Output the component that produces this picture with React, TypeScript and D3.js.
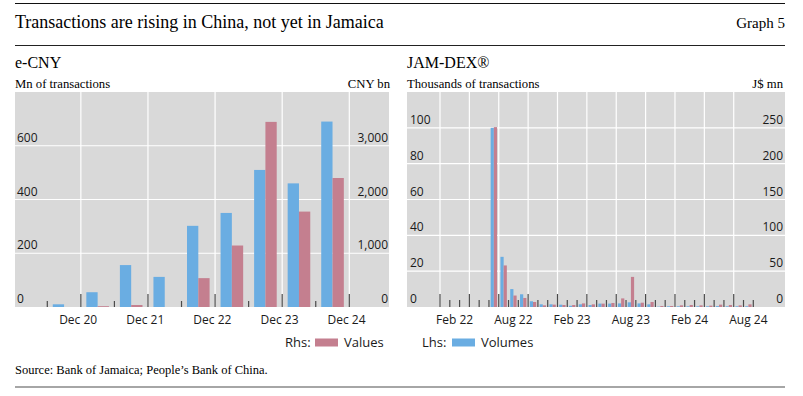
import * as d3 from "d3";

// e-CNY, half-yearly
const cnyPeriods = ["H2 20", "H1 21", "H2 21", "H1 22", "H2 22", "H1 23", "H2 23", "H1 24", "H2 24"];
const cnyVolumes = [10, 55, 156, 112, 302, 350, 510, 460, 690]; // Mn of transactions (lhs)
const cnyValues = [0, 15, 37, 0, 537, 1144, 3444, 1775, 2400]; // CNY bn (rhs)
const cnyLabels = ["Dec 20", "Dec 21", "Dec 22", "Dec 23", "Dec 24"];
const cnyLhsTicks = [0, 200, 400, 600];
const cnyRhsTicks = [0, 1000, 2000, 3000];

// JAM-DEX, monthly
const jamMonths = [
  "Jan 22", "Feb 22", "Mar 22", "Apr 22", "May 22", "Jun 22", "Jul 22", "Aug 22", "Sep 22", "Oct 22", "Nov 22", "Dec 22",
  "Jan 23", "Feb 23", "Mar 23", "Apr 23", "May 23", "Jun 23", "Jul 23", "Aug 23", "Sep 23", "Oct 23", "Nov 23", "Dec 23",
  "Jan 24", "Feb 24", "Mar 24", "Apr 24", "May 24", "Jun 24", "Jul 24", "Aug 24",
];
const jamVolumes = [
  null, null, null, null, null, 100, 28, 10, 7.1, 3.2, 1.5, 1.5,
  1.3, 0.7, 1.5, 1.1, 1.9, 1.9, 2.0, 2.6, 2.0, 1.5, 0.2, 0.4,
  0.4, 0.4, 0.4, 0.4, 0.5, 0.4, 0.4, 0.4,
]; // thousands of transactions (lhs)
const jamValues = [
  null, null, null, null, null, 251, 58, 16, 12.6, 7, 2.3, 3.3,
  2.8, 2.8, 5, 3.7, 4.7, 5.6, 12, 42, 6, 7, 1.4, 1.4,
  2.3, 2.8, 2.3, 1.9, 3.3, 2.8, 2.3, 3.7,
]; // J$ mn (rhs)
const jamLabels = ["Feb 22", "Aug 22", "Feb 23", "Aug 23", "Feb 24", "Aug 24"];
const jamLhsTicks = [0, 20, 40, 60, 80, 100];
const jamRhsTicks = [0, 50, 100, 150, 200, 250];

const BLUE = "#6aade2";
const RED = "#c47f8f";
const BG = "#d9d9d9";
const TICK = "#4a4a4a";
const SANS = "'Open Sans', sans-serif";
const SERIF = "'Liberation Serif', 'Times New Roman', serif";

const top = 92;
const bottom = 307;

function CnyPanel() {
  const x = d3.scaleBand<string>().domain(cnyPeriods).range([47.3, 349.3]);
  const sub = d3.scaleBand<string>().domain(["v", "r"]).range([0, x.bandwidth()]).paddingOuter(0.485);
  const yL = d3.scaleLinear().domain([0, 800]).range([bottom, top]);
  const yR = d3.scaleLinear().domain([0, 4000]).range([bottom, top]);
  const h2 = cnyPeriods.filter((p) => p.startsWith("H2"));
  return (
    <g>
      <rect x={15} y={top} width={374} height={bottom - top} fill={BG} />
      {cnyLhsTicks.filter((t) => t > 0).map((t) => (
        <line key={t} x1={15} x2={389} y1={yL(t)} y2={yL(t)} stroke="#fff" strokeWidth={1.2} />
      ))}
      {h2.map((p) => {
        const xe = (x(p) as number) + x.bandwidth();
        return <line key={p} x1={xe} x2={xe} y1={top} y2={bottom} stroke="#fff" strokeWidth={1.2} />;
      })}
      {cnyPeriods.map((p, i) => (
        <g key={p}>
          <rect x={(x(p) as number) + (sub("v") as number)} width={sub.bandwidth()} y={yL(cnyVolumes[i])} height={bottom - yL(cnyVolumes[i])} fill={BLUE} />
          <rect x={(x(p) as number) + (sub("r") as number)} width={sub.bandwidth()} y={yR(cnyValues[i])} height={bottom - yR(cnyValues[i])} fill={RED} />
        </g>
      ))}
      {h2.map((p) => {
        const xs = x(p) as number;
        const xe = xs + x.bandwidth();
        return (
          <g key={p}>
            <line x1={xs} x2={xs} y1={bottom - 6} y2={bottom} stroke={TICK} strokeWidth={1.2} />
            <line x1={xe} x2={xe} y1={bottom - 13} y2={bottom} stroke={TICK} strokeWidth={1.2} />
          </g>
        );
      })}
      {cnyLhsTicks.map((t) => (
        <text key={t} x={17} y={yL(t) - 4} fontFamily={SANS} fontSize={12} fill="#1a1a1a">{t}</text>
      ))}
      {cnyRhsTicks.map((t) => (
        <text key={t} x={388} y={yR(t) - 4} textAnchor="end" fontFamily={SANS} fontSize={12} fill="#1a1a1a">{d3.format(",")(t)}</text>
      ))}
      {h2.map((p, i) => (
        <text key={p} x={(x(p) as number) + x.bandwidth() - 2.7} y={324} textAnchor="middle" fontFamily={SANS} fontSize={12} fill="#1a1a1a">{cnyLabels[i]}</text>
      ))}
      <text x={15} y={68} fontFamily={SERIF} fontSize={16}>e-CNY</text>
      <text x={15} y={88} fontFamily={SERIF} fontSize={12.7}>Mn of transactions</text>
      <text x={390} y={88} textAnchor="end" fontFamily={SERIF} fontSize={12.7}>CNY bn</text>
    </g>
  );
}

function JamPanel() {
  const x = d3.scaleBand<string>().domain(jamMonths).range([440, 753.3]);
  const sub = d3.scaleBand<string>().domain(["v", "r"]).range([0, x.bandwidth()]).paddingOuter(0.53);
  const yL = d3.scaleLinear().domain([0, 120]).range([bottom, top]);
  const yR = d3.scaleLinear().domain([0, 300]).range([bottom, top]);
  const isQuarter = (m: string) => ["Jan", "Apr", "Jul", "Oct"].includes(m.slice(0, 3));
  const last = jamMonths[jamMonths.length - 1];
  return (
    <g>
      <rect x={407} y={top} width={378} height={bottom - top} fill={BG} />
      {jamLhsTicks.filter((t) => t > 0).map((t) => (
        <line key={t} x1={407} x2={785} y1={yL(t)} y2={yL(t)} stroke="#fff" strokeWidth={1.2} />
      ))}
      {jamMonths.filter(isQuarter).map((m) => (
        <line key={m} x1={x(m)} x2={x(m)} y1={top} y2={bottom} stroke="#fff" strokeWidth={1.2} />
      ))}
      {jamMonths.map((m, i) => (
        <g key={m}>
          {jamVolumes[i] != null && (
            <rect x={(x(m) as number) + (sub("v") as number)} width={sub.bandwidth()} y={yL(jamVolumes[i] as number)} height={bottom - yL(jamVolumes[i] as number)} fill={BLUE} />
          )}
          {jamValues[i] != null && (
            <rect x={(x(m) as number) + (sub("r") as number)} width={sub.bandwidth()} y={yR(jamValues[i] as number)} height={bottom - yR(jamValues[i] as number)} fill={RED} />
          )}
        </g>
      ))}
      {jamMonths.map((m) => (
        <line key={m} x1={x(m)} x2={x(m)} y1={bottom - (isQuarter(m) ? 13 : 7)} y2={bottom} stroke={TICK} strokeWidth={1.2} />
      ))}
      <line x1={(x(last) as number) + x.bandwidth()} x2={(x(last) as number) + x.bandwidth()} y1={bottom - 7} y2={bottom} stroke={TICK} strokeWidth={1.2} />
      {jamLhsTicks.map((t) => (
        <text key={t} x={410} y={yL(t) - 4} fontFamily={SANS} fontSize={12} fill="#1a1a1a">{t}</text>
      ))}
      {jamRhsTicks.map((t) => (
        <text key={t} x={783} y={yR(t) - 4} textAnchor="end" fontFamily={SANS} fontSize={12} fill="#1a1a1a">{t}</text>
      ))}
      {jamLabels.map((m) => (
        <text key={m} x={(x(m) as number) + x.bandwidth() / 2} y={324} textAnchor="middle" fontFamily={SANS} fontSize={12} fill="#1a1a1a">{m}</text>
      ))}
      <text x={407} y={68} fontFamily={SERIF} fontSize={16}>JAM-DEX®</text>
      <text x={407} y={88} fontFamily={SERIF} fontSize={12.7}>Thousands of transactions</text>
      <text x={783} y={88} textAnchor="end" fontFamily={SERIF} fontSize={12.7}>J$ mn</text>
    </g>
  );
}

export default function App() {
  return (
    <svg width={803} height={396} style={{ position: "absolute", left: 0, top: 0, background: "#fff" }}>
      <line x1={15} x2={785} y1={3.5} y2={3.5} stroke="#111" strokeWidth={1} />
      <text x={15} y={28} fontFamily={SERIF} fontSize={18}>Transactions are rising in China, not yet in Jamaica</text>
      <text x={785} y={28} textAnchor="end" fontFamily={SERIF} fontSize={15}>Graph 5</text>
      <line x1={15} x2={785} y1={45.5} y2={45.5} stroke="#222" strokeWidth={1} />
      <CnyPanel />
      <JamPanel />
      <g fontFamily={SANS} fontSize={13} fill="#1a1a1a">
        <text x={285} y={347}>Rhs:</text>
        <rect x={315} y={338.5} width={23} height={8} fill={RED} />
        <text x={344} y={347}>Values</text>
        <text x={422} y={347}>Lhs:</text>
        <rect x={452} y={338.5} width={23} height={8} fill={BLUE} />
        <text x={481} y={347}>Volumes</text>
      </g>
      <text x={15} y={374} fontFamily={SERIF} fontSize={12.5}>Source: Bank of Jamaica; People’s Bank of China.</text>
      <line x1={15} x2={785} y1={387} y2={387} stroke="#888" strokeWidth={1.5} />
    </svg>
  );
}
